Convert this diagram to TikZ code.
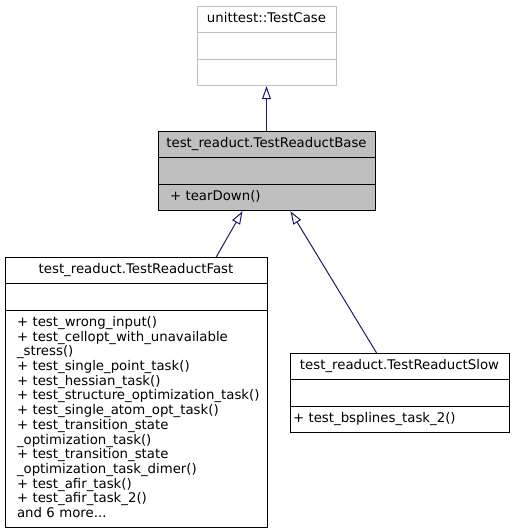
\documentclass[tikz,border=0pt]{standalone}
\usepackage{fontspec}
\setmainfont{DejaVu Sans}
\usetikzlibrary{shapes.multipart,arrows.meta,calc}
\definecolor{edgeblue}{HTML}{191970}
\definecolor{basegray}{HTML}{BFBFBF}
\newcommand{\umlfont}{\fontsize{13.3}{14.7}\selectfont}
\newcommand{\clstitle}[1]{\makebox[\linewidth]{\strut #1}}
\begin{document}
\begin{tikzpicture}[x=1pt,y=-1pt,font=\umlfont,
  cls/.style={draw, line width=1pt, rectangle split, rectangle split parts=3, align=left, anchor=north, inner ysep=5.35pt},
  inherit/.style={draw=edgeblue, line width=1pt, -{Triangle[open,length=13pt,width=9pt]}}]
\useasboundingbox (0,0) rectangle (512,531);
\node[cls, draw=basegray, inner xsep=4pt, text width=131pt](testcase) at (266.5,6)
  {\clstitle{unittest::TestCase}\nodepart{two}\strut\nodepart{three}\strut};
\node[cls, fill=basegray, inner xsep=12pt, text width=193pt](base) at (266.5,131)
  {\clstitle{test\_readuct.TestReaductBase}\nodepart{two}\strut\nodepart{three}\strut+~tearDown()};
\node[cls, inner xsep=12pt, text width=238pt](fast) at (136,257)
  {\clstitle{test\_readuct.TestReaductFast}\nodepart{two}\strut
   \nodepart{three}\strut+~test\_wrong\_input()\\
   +~test\_cellopt\_with\_unavailable\\
   \_stress()\\
   +~test\_single\_point\_task()\\
   +~test\_hessian\_task()\\
   +~test\_structure\_optimization\_task()\\
   +~test\_single\_atom\_opt\_task()\\
   +~test\_transition\_state\\
   \_optimization\_task()\\
   +~test\_transition\_state\\
   \_optimization\_task\_dimer()\\
   +~test\_afir\_task()\\
   +~test\_afir\_task\_2()\\
   and 6 more...\strut};
\node[cls, inner xsep=3pt, text width=213pt](slow) at (399.5,353)
  {\clstitle{test\_readuct.TestReaductSlow}\nodepart{two}\strut\nodepart{three}\strut+~test\_bsplines\_task\_2()};
% inheritance
\draw[inherit] (base.north) -- (testcase.south);
\draw[inherit] ($(fast.north west)!0.805!(fast.north east)$) -- ($(base.south west)!0.39!(base.south east)$);
\draw[inherit] ($(slow.north west)!0.396!(slow.north east)$) -- ($(base.south west)!0.61!(base.south east)$);
\end{tikzpicture}
\end{document}
